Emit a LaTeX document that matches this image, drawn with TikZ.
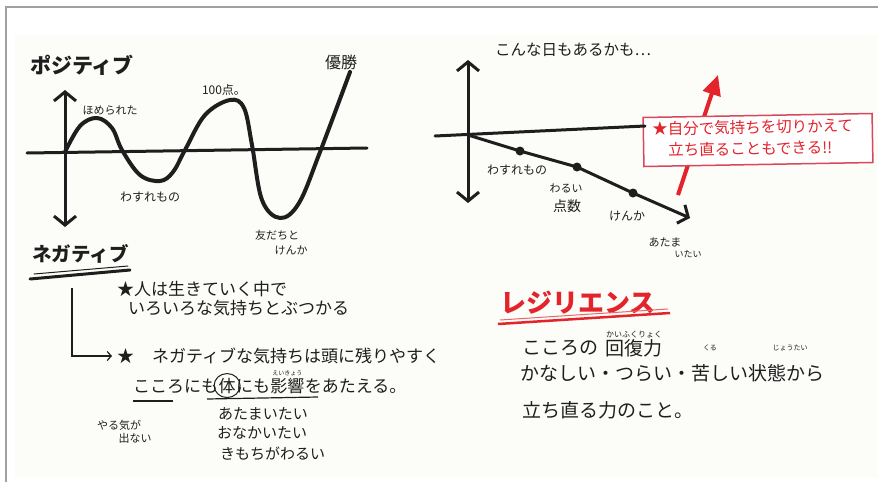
\documentclass[tikz,border=0pt]{standalone}
\usepackage{fontspec}
\newfontfamily\jp{Noto Sans CJK JP}
\usetikzlibrary{arrows.meta,calc}
\definecolor{ink}{HTML}{1E1E1E}
\definecolor{redink}{HTML}{E3242B}
\definecolor{boxred}{HTML}{D9475A}
\definecolor{paper}{HTML}{FCFCF9}
\definecolor{frame}{HTML}{A0A0A0}
\newcommand{\fs}[1]{\fontsize{#1}{#1}\selectfont}
\begin{document}
\begin{tikzpicture}[x=1pt,y=-1pt,
  every node/.style={inner sep=0pt, font=\jp, text=ink},
  axisline/.style={draw=ink, line width=3pt, line cap=round},
  barbs/.style={axisline, {Straight Barb[length=9pt,width=22pt]}-{Straight Barb[length=9pt,width=22pt]}},
  wave/.style={draw=ink, line width=4pt, line cap=round, line join=round},
  lbl/.style={font=\jp\fs{#1}},
  title/.style={font=\jp\bfseries\fs{#1}},
  body/.style={anchor=west, font=\jp\fs{#1}},
  dot/.style={fill=ink}
]
\useasboundingbox (0,0) rectangle (878,482);
\fill[white] (0,0) rectangle (878,482);
\fill[paper] (15,35) rectangle (878,478);
\draw[frame, line width=2pt] (5,7) -- (878,7);
\draw[frame, line width=2pt] (6,7) -- (6,482);

% ---------- left graph ----------
\node[title=21, anchor=west] (pos) at (30,65) {ポジティブ};
\node[title=19.5, anchor=west] (neg) at (32,254) {ネガティブ};
\coordinate (vtop) at (65,90);
\coordinate (vbot) at (65,227);
\draw[barbs] (vtop) -- (vbot);
\coordinate (hl) at (27,153);
\coordinate (hr) at (367,148);
\draw[axisline] (hl) -- (hr);
\draw[wave] plot[smooth, tension=0.6] coordinates {(65,152) (80,126) (97,118) (112,128) (122,150) (140,175) (160,181) (173,172) (185,150) (205,115) (230,100) (244,108) (252,145) (262,200) (280,218) (299,203) (320,152) (350,72)};
\node[lbl=11] (homerareta) at (110,110) {ほめられた};
\node[lbl=12] (hyaku) at (224,90) {100点。};
\node[lbl=16] (yusho) at (341,62) {優勝};
\node[lbl=12] (wasure1) at (150,197) {わすれもの};
\node[lbl=11] (tomo) at (277,235) {友だちと};
\node[lbl=11] (kenka1) at (291,250) {けんか};

% double underline of negative
\draw[ink, line width=3pt, line cap=round] (30,279) -- (130,270);
\draw[ink, line width=1pt, line cap=round] (34,274) -- (128,266);

% ---------- left text block ----------
\node[body=17] (s1) at (117,289) {★人は生きていく中で};
\node[body=17] (s1b) at (128,308) {いろいろな気持ちとぶつかる};
\node[body=17] (star2) at (117,356) {★};
\node[body=17] (s2) at (152,356) {ネガティブな気持ちは頭に残りやすく};
\coordinate (Lstart) at (72,288);
\draw[ink, line width=1.2pt, -{Straight Barb[length=4pt,width=9pt]}, shorten >=5pt] (Lstart) |- (star2.west);
\node[font=\jp\fs{17}, anchor=base west] (k1) at (133,392) {こころにも};
\node[font=\jp\fs{17}, anchor=base west] (k2) at (k1.base east) {体};
\node[font=\jp\fs{17}, anchor=base west] (k3) at (k2.base east) {にも};
\node[font=\jp\fs{17}, anchor=base west] (k4) at (k3.base east) {影響};
\node[font=\jp\fs{17}, anchor=base west] (k5) at (k4.base east) {をあたえる。};
\node[lbl=6, anchor=south] (eikyo) at ($(k4.north)+(0,-1)$) {えいきょう};
\draw[ink, line width=1pt] (k2.center) ellipse [x radius=13pt, y radius=12pt];
\draw[ink, line width=1.2pt] (133,401) -- (173,401);
\draw[ink, line width=1.2pt] (207,399) -- (318,397);
\node[lbl=11] (yaruki) at (119,425) {やる気が};
\node[lbl=11] (denai) at (135,438) {出ない};
\node[body=15] (atama) at (218,414) {あたまいたい};
\node[body=15] (onaka) at (217,433) {おなかいたい};
\node[body=15] (kimochi) at (220,454) {きもちがわるい};

% ---------- right graph ----------
\node[body=15.5] (konna) at (495,50) {こんな日もあるかも…};
\coordinate (rvtop) at (468,60);
\coordinate (rvbot) at (468,203);
\draw[barbs] (rvtop) -- (rvbot);
\coordinate (o) at (468,135);
\coordinate (p1) at (520,151);
\coordinate (p2) at (577,167);
\coordinate (p3) at (633,193);
\coordinate (pend) at (690,218);
\coordinate (rhl) at (435,136);
\coordinate (rhr) at (645,126);
% red arrow (behind box)
\coordinate (ra1) at (678,195);
\coordinate (ra2) at (718,75);
\draw[redink, line width=4pt, -{Triangle[length=20pt,width=18pt]}] (ra1) -- (ra2);
\node[rotate=1, draw=boxred, fill=white, line width=1.5pt, minimum width=229pt, minimum height=49pt] (box) at (758,140) {};
\node[body=15.5, text=redink, rotate=1] (bt1) at (652,129) {★自分で気持ちを切りかえて};
\node[body=15.5, text=redink, rotate=1] (bt2) at (668,150) {立ち直ることもできる!!};
\draw[axisline] (rhl) -- (rhr);
\draw[ink, line width=3pt, line join=round, -{Straight Barb[length=8pt,width=20pt]}] (o) -- (p1) -- (p2) -- (p3) -- (pend);
\fill[dot] (p1) circle[radius=4.5pt];
\fill[dot] (p2) circle[radius=4.5pt];
\fill[dot] (p3) circle[radius=4.5pt];
\node[lbl=12] (wasure2) at (517,170) {わすれもの};
\node[lbl=11] (warui) at (566,188) {わるい};
\node[lbl=14] (tensu) at (567,206) {点数};
\node[lbl=12] (kenka2) at (627,216) {けんか};
\node[lbl=11] (atama2) at (665,242) {あたま};
\node[lbl=9] (itai2) at (688,254) {いたい};

% ---------- resilience ----------
\node[title=26, anchor=west, text=redink] (res) at (500,303) {レジリエンス};
\draw[redink, line width=2.5pt] (498,324) -- (670,313);
\draw[redink!70, line width=1pt] (500,320) -- (668,309);
\node[body=19] (r1a) at (522,348) {こころの};
\node[body=19] (r1b) at ($(r1a.east)+(7,0)$) {回復力};
\node[lbl=8, anchor=south] (kaifuku) at ($(r1b.north)+(0,-1)$) {かいふくりょく};
\node[body=19] (r2) at (520,373) {かなしい・つらい・苦しい状態から};
\node[lbl=7] (kuru) at (710,348) {くる};
\node[lbl=7] (jotai) at (790,348) {じょうたい};
\node[body=19] (r3) at (522,410) {立ち直る力のこと。};
\end{tikzpicture}
\end{document}
